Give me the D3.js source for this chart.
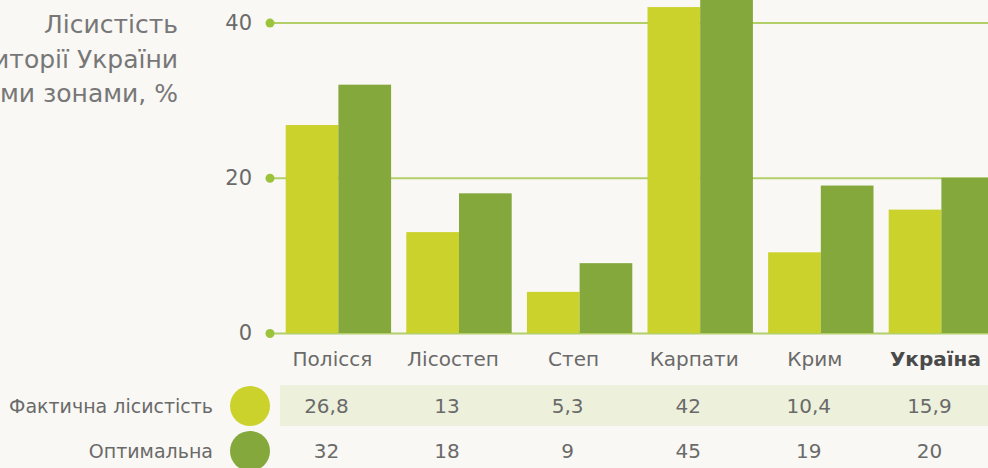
<!DOCTYPE html>
<html>
<head>
<meta charset="utf-8">
<script src="https://cdn.jsdelivr.net/npm/d3@7"></script>
<style>
	html, body { margin:0; padding:0; background:#f9f8f4; overflow:hidden; }
	svg { display:block; font-family: "DejaVu Sans", sans-serif; }
</style>
</head>
<body>
<svg id="chart" width="988" height="468"></svg>
<script>
// data
const zones = ['Полісся', 'Лісостеп', 'Степ', 'Карпати', 'Крим', 'Україна'];
const actualForest = [26.8, 13, 5.3, 42, 10.4, 15.9];
const optimalForest = [32, 18, 9, 45, 19, 20];
const yTicks = [0, 20, 40];
const seriesNames = ['Фактична лісистість', 'Оптимальна'];
const titleLines = ['Лісистість', 'території України', 'за природними зонами, %'];

const W = 988, H = 468;
const colLight = '#cbd22c';
const colDark = '#84a83b';
const gridColor = '#b2cf6a';
const dotColor = '#9cc33c';
const textColor = '#6a6a6a';

const svg = d3.select('#chart');
const loc = d3.formatLocale({decimal: ',', thousands: ' ', grouping: [3], currency: ['', '']});
const fmt = loc.format('~g');

const x = d3.scaleBand()
	.domain(zones)
	.range([278.1, 1001.7])
	.paddingInner(0.126)
	.paddingOuter(0.063);

const xs = d3.scaleBand()
	.domain([0, 1])
	.range([0, x.bandwidth()]);

const y = d3.scaleLinear()
	.domain([0, 40])
	.range([333, 22.6]);

// title (cut by the left edge like the original)
svg.append('g')
	.selectAll('text')
	.data(titleLines)
	.join('text')
	.attr('x', 178)
	.attr('y', (d, i) => 33 + i * 34.5)
	.attr('text-anchor', 'end')
	.attr('fill', '#777')
	.attr('font-size', 25)
	.text(d => d);

// grid lines + axis
const yAxis = d3.axisLeft(y)
	.tickValues(yTicks)
	.tickSize(0)
	.tickPadding(18);

const yAxisG = svg.append('g')
	.attr('transform', 'translate(270,0)')
	.call(yAxis);
yAxisG.select('.domain').remove();
yAxisG.selectAll('.tick text')
	.attr('fill', textColor)
	.attr('font-size', 21)
	.attr('font-family', '"DejaVu Sans", sans-serif');
yAxisG.selectAll('.tick').append('line')
	.attr('x1', 0)
	.attr('x2', W - 270)
	.attr('stroke', gridColor)
	.attr('stroke-width', 2);

// bars
const groups = svg.append('g')
	.selectAll('g')
	.data(zones)
	.join('g')
	.attr('transform', d => `translate(${x(d)},0)`);

groups.append('rect')
	.attr('x', xs(0))
	.attr('width', xs.bandwidth())
	.attr('y', (d, i) => y(actualForest[i]))
	.attr('height', (d, i) => y(0) - y(actualForest[i]))
	.attr('fill', colLight);

groups.append('rect')
	.attr('x', xs(1))
	.attr('width', xs.bandwidth())
	.attr('y', (d, i) => y(optimalForest[i]))
	.attr('height', (d, i) => y(0) - y(optimalForest[i]))
	.attr('fill', colDark);

// dots on axis ends
yAxisG.selectAll('.tick').append('circle')
	.attr('r', 4.5)
	.attr('fill', dotColor);

// category labels
svg.append('g')
	.selectAll('text')
	.data(zones)
	.join('text')
	.attr('x', d => x(d) + x.bandwidth() / 2 - 6)
	.attr('y', 366)
	.attr('text-anchor', 'middle')
	.attr('fill', d => d === 'Україна' ? '#4a4a4a' : textColor)
	.attr('font-weight', d => d === 'Україна' ? 700 : 400)
	.attr('font-size', 20)
	.text(d => d);

// table
svg.append('rect')
	.attr('x', 280)
	.attr('y', 385)
	.attr('width', W - 280)
	.attr('height', 41)
	.attr('fill', '#edf1dc');

const rows = [actualForest, optimalForest];
const rowY = [406, 451];
const rowColors = [colLight, colDark];

rows.forEach((vals, r) => {
	svg.append('text')
		.attr('x', 213)
		.attr('y', rowY[r])
		.attr('dy', '0.35em')
		.attr('text-anchor', 'end')
		.attr('fill', textColor)
		.attr('font-size', 19)
		.text(seriesNames[r]);

	svg.append('circle')
		.attr('cx', 250)
		.attr('cy', rowY[r])
		.attr('r', 20)
		.attr('fill', rowColors[r]);

	svg.append('g')
		.selectAll('text')
		.data(vals)
		.join('text')
		.attr('x', (d, i) => x(zones[i]) + x.bandwidth() / 2 - 12)
		.attr('y', rowY[r])
		.attr('dy', '0.35em')
		.attr('text-anchor', 'middle')
		.attr('fill', textColor)
		.attr('font-size', 20)
		.text(d => fmt(d));
});
</script>
</body>
</html>
